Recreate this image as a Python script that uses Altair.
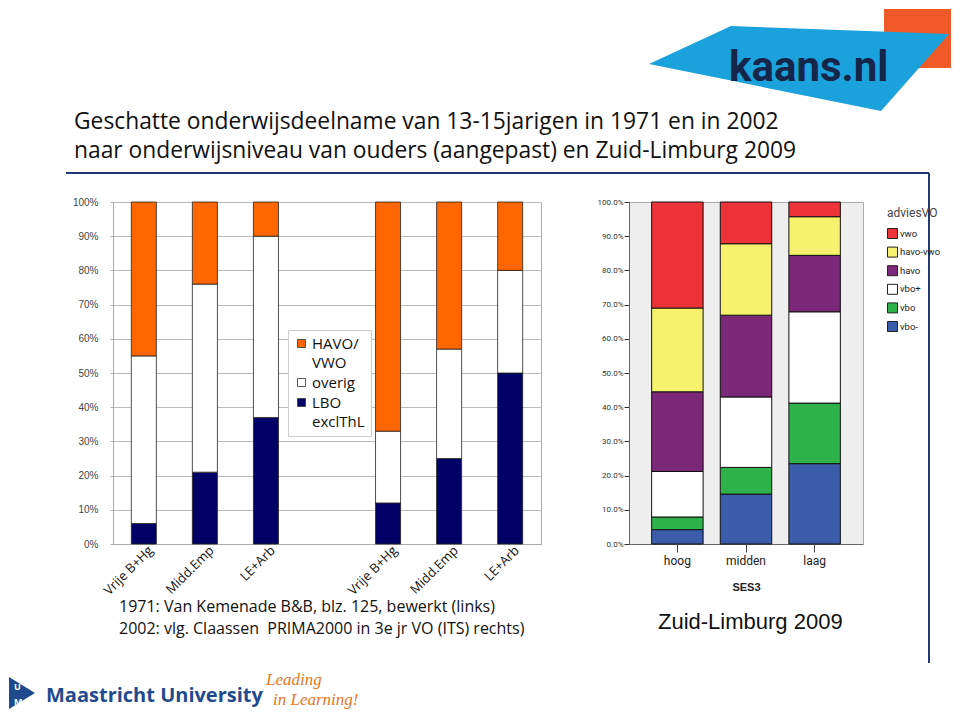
import altair as alt
import pandas as pd

# ---------------- data: left panel (1971 / 2002) ----------------
groups = ["Vrije B+Hg", "Midd.Emp", "LE+Arb"]
levels = ["HAVO/ VWO", "overig", "LBO exclThL"]
level_colors = ["#FF6600", "#FFFFFF", "#000066"]
lbo_1971 = [6, 21, 37]
overig_1971 = [49, 55, 53]
havo_1971 = [45, 24, 10]
lbo_2002 = [12, 25, 50]
overig_2002 = [21, 32, 30]
havo_2002 = [67, 43, 20]
y_ticks = [0, 10, 20, 30, 40, 50, 60, 70, 80, 90, 100]

# ---------------- data: right panel (Zuid-Limburg 2009) ----------------
ses = ["hoog", "midden", "laag"]
advies = ["vwo", "havo-vwo", "havo", "vbo+", "vbo", "vbo-"]
advies_colors = ["#EE3338", "#F8F16E", "#7B2878", "#FFFFFF", "#2DB34A", "#3A5CAB"]
vwo = [31.0, 12.2, 4.3]
havo_vwo = [24.5, 20.9, 11.3]
havo = [23.3, 23.9, 16.5]
vbo_plus = [13.3, 20.6, 26.7]
vbo = [3.7, 7.8, 17.7]
vbo_min = [4.2, 14.6, 23.5]

# ---------------- texts ----------------
title_lines = ["Geschatte onderwijsdeelname van 13-15jarigen in 1971 en in 2002",
               "naar onderwijsniveau van ouders (aangepast) en Zuid-Limburg 2009"]
source_lines = ["1971: Van Kemenade B&B, blz. 125, bewerkt (links)",
                "2002: vlg. Claassen\u00a0 PRIMA2000 in 3e jr VO (ITS) rechts)"]
right_caption = "Zuid-Limburg 2009"

# ---------------- build tables ----------------
slots = [f"1971 {g}" for g in groups] + ["gap"] + [f"2002 {g}" for g in groups]
rows = []
for year, lbo, ov, hv in [("1971", lbo_1971, overig_1971, havo_1971),
                          ("2002", lbo_2002, overig_2002, havo_2002)]:
    for i, g in enumerate(groups):
        for ordv, (lev, val) in enumerate([(levels[2], lbo[i]), (levels[1], ov[i]), (levels[0], hv[i])]):
            rows.append({"slot": f"{year} {g}", "niveau": lev, "value": val, "ord": ordv})
df_left = pd.DataFrame(rows)

rrows = []
series = [vbo_min, vbo, vbo_plus, havo, havo_vwo, vwo]
names = ["vbo-", "vbo", "vbo+", "havo", "havo-vwo", "vwo"]
for i, s in enumerate(ses):
    for ordv, (nm, vals) in enumerate(zip(names, series)):
        rrows.append({"SES3": s, "adviesVO": nm, "pct": vals[i], "ord": ordv})
df_right = pd.DataFrame(rrows)

# ---------------- left chart ----------------
left = alt.Chart(df_left).mark_bar(stroke="#222222", strokeWidth=0.8).encode(
    x=alt.X("slot:N", sort=slots,
            scale=alt.Scale(domain=slots, paddingInner=0.59, paddingOuter=0.3),
            axis=alt.Axis(title=None, labelAngle=-45, labelAlign="right", labelBaseline="middle",
                          labelExpr="datum.label == 'gap' ? '' : substring(datum.label, 5)",
                          ticks=False, domainColor="#aaaaaa", labelFont="Open Sans",
                          labelFontSize=13, labelColor="#111111", labelPadding=4, labelOffset=7)),
    y=alt.Y("value:Q", stack="zero", scale=alt.Scale(domain=[0, 100]),
            axis=alt.Axis(title=None, values=y_ticks, labelExpr="datum.value + '%'",
                          labelFont="Liberation Sans", labelFontSize=10, labelColor="#444444",
                          tickSize=3, tickColor="#aaaaaa", domainColor="#aaaaaa",
                          gridColor="#bbbbbb", labelPadding=12)),
    color=alt.Color("niveau:N", scale=alt.Scale(domain=levels, range=level_colors),
                    legend=alt.Legend(title=None, orient="none", legendX=175, legendY=128,
                                      fillColor="white", strokeColor="#cccccc", padding=6,
                                      symbolType="square", symbolSize=64,
                                      symbolStrokeColor="#333333", symbolStrokeWidth=0.8,
                                      labelFont="Open Sans", labelFontSize=15, labelColor="#111111",
                                      labelExpr="split(datum.label, ' ')", rowPadding=4,
                                      labelOffset=3)),
    order=alt.Order("ord:Q"),
).properties(width=428, height=342, view=alt.ViewBackground(stroke="#aaaaaa"))

# ---------------- right chart ----------------
right = alt.Chart(df_right).mark_bar(stroke="#111111", strokeWidth=1).encode(
    x=alt.X("SES3:N", sort=ses, scale=alt.Scale(paddingInner=0.25, paddingOuter=0.33),
            axis=alt.Axis(title="SES3", labelAngle=0, labelFont="Roboto",
                          labelFontSize=12, labelColor="#222222", tickSize=8, tickColor="#444444",
                          domainColor="#666666", labelPadding=3, titleFont="Liberation Sans",
                          titleFontSize=11, titleFontWeight="bold", titleColor="#222222",
                          titlePadding=15)),
    y=alt.Y("pct:Q", stack="zero", scale=alt.Scale(domain=[0, 100]),
            axis=alt.Axis(title=None, values=y_ticks, grid=False,
                          labelExpr="format(datum.value, '.1f') + '%'",
                          labelFont="Roboto", labelFontSize=8, labelColor="#333333",
                          tickSize=5, tickColor="#333333", domainColor="#666666", labelPadding=1)),
    color=alt.Color("adviesVO:N", scale=alt.Scale(domain=advies, range=advies_colors),
                    legend=alt.Legend(title="adviesVO", orient="none", legendX=258, legendY=6,
                                      titleFont="Roboto", titleFontSize=12,
                                      titleFontWeight="normal", titleColor="#444444", titlePadding=8,
                                      labelFont="Roboto", labelFontSize=9.5,
                                      labelColor="#222222", symbolType="square", symbolSize=100,
                                      symbolStrokeColor="#222222", symbolStrokeWidth=1,
                                      rowPadding=3.6, padding=0, labelOffset=2)),
    order=alt.Order("ord:Q"),
).properties(width=234, height=342, view=alt.ViewBackground(fill="#EEEEEE", stroke="#aaaaaa"))

row = alt.hconcat(left, right, spacing=88, bounds="flush").resolve_scale(color="independent")

# ---------------- slide decoration (pixel canvas, origin = top of left plot column) ----------------
def px(field):
    return alt.X(f"{field}:Q", scale=None, axis=None)

def py(field):
    return alt.Y(f"{field}:Q", scale=None, axis=None)

hdr_title = alt.Chart(pd.DataFrame({"t": title_lines, "x": [-39, -39], "y": [120, 149]})).mark_text(
    align="left", baseline="alphabetic", font="Open Sans", fontSize=22.8, color="#111111"
).encode(x=px("x"), y=py("y"), text="t:N")

logo_sq = alt.Chart(pd.DataFrame({"x": [771], "x2": [838], "y": [0], "y2": [59]})).mark_rect(
    color="#F05A28").encode(x=px("x"), x2="x2:Q", y=py("y"), y2="y2:Q")

logo_poly = alt.Chart(pd.DataFrame({"x": [536, 618, 768, 836], "top": [55, 17, 22.5, 25],
                                    "bot": [55, 71.6, 102, 25]})).mark_area(
    color="#1BA1DB", interpolate="linear").encode(x=px("x"), y=py("top"), y2="bot:Q")

logo_txt = alt.Chart(pd.DataFrame({"t": ["kaans.nl"], "x": [616], "y": [72]})).mark_text(
    align="left", baseline="alphabetic", font="Roboto", fontSize=42,
    fontWeight="bold", color="#15264A").encode(x=px("x"), y=py("y"), text="t:N")

hline = alt.Chart(pd.DataFrame({"x": [-47], "x2": [816], "y": [164]})).mark_rule(
    color="#1F3B73", strokeWidth=2).encode(x=px("x"), x2="x2:Q", y=py("y"))

vline = alt.Chart(pd.DataFrame({"x": [816], "y": [164], "y2": [654]})).mark_rule(
    color="#1F3B73", strokeWidth=2).encode(x=px("x"), y=py("y"), y2="y2:Q")

src = alt.Chart(pd.DataFrame({"t": source_lines, "x": [6, 6], "y": [603, 625]})).mark_text(
    align="left", baseline="alphabetic", font="Open Sans", fontSize=16, color="#111111"
).encode(x=px("x"), y=py("y"), text="t:N")

cap = alt.Chart(pd.DataFrame({"t": [right_caption], "x": [545], "y": [620]})).mark_text(
    align="left", baseline="alphabetic", font="Liberation Sans", fontSize=22, color="#111111"
).encode(x=px("x"), y=py("y"), text="t:N")

um_icon = alt.Chart(pd.DataFrame({"x": [-104, -78], "top": [668, 684], "bot": [700, 684]})).mark_area(
    color="#1F4B8E", interpolate="linear").encode(x=px("x"), y=py("top"), y2="bot:Q")

um_letters = alt.Chart(pd.DataFrame({"t": ["U", "M"], "x": [-99, -99], "y": [681, 696]})).mark_text(
    align="left", baseline="alphabetic", font="Open Sans", fontSize=9, fontWeight="bold",
    color="white").encode(x=px("x"), y=py("y"), text="t:N")

um_name = alt.Chart(pd.DataFrame({"t": ["Maastricht University"], "x": [-67], "y": [693]})).mark_text(
    align="left", baseline="alphabetic", font="Open Sans", fontSize=20, fontWeight="bold",
    color="#1F4B8E").encode(x=px("x"), y=py("y"), text="t:N")

um_slogan = alt.Chart(pd.DataFrame({"t": ["Leading", "in Learning!"], "x": [153, 160],
                                    "y": [676, 696]})).mark_text(
    align="left", baseline="alphabetic", font="Liberation Serif", fontSize=17, fontStyle="italic",
    color="#E87722").encode(x=px("x"), y=py("y"), text="t:N")

header = alt.layer(logo_sq, logo_poly, logo_txt, hdr_title, hline, vline,
                   src, cap, um_icon, um_letters, um_name, um_slogan).properties(
    width=428, height=193, view=alt.ViewBackground(stroke="transparent"))

chart = alt.vconcat(header, row, spacing=0, bounds="flush").properties(
    padding=0, background="white"
).configure(style={"guide-label": {"lineHeight": 19}})

chart.save("out.html", embed_options={"renderer": "svg", "actions": False})
